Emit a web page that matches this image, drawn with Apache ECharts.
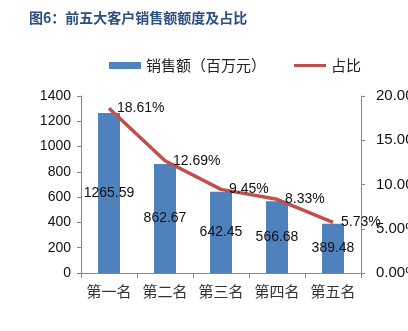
<!DOCTYPE html>
<html><head><meta charset="utf-8">
<script src="https://cdn.jsdelivr.net/npm/echarts@6/dist/echarts.min.js"></script>
<style>html,body{margin:0;padding:0;background:#fff}#c{width:408px;height:331px}</style>
</head><body><div id="c"></div>
<script>
var categories = ['第一名','第二名','第三名','第四名','第五名'];
var sales = [1265.59, 862.67, 642.45, 566.68, 389.48];
var share = [18.61, 12.69, 9.45, 8.33, 5.73];
var leftTicks = [0, 200, 400, 600, 800, 1000, 1200, 1400];
var rightTicks = [0, 5, 10, 15, 20];

var ff = 'Liberation Sans, Noto Sans CJK SC, sans-serif';
var chart = echarts.init(document.getElementById('c'));
chart.setOption({
  animation: false,
  textStyle: {fontFamily: ff},
  title: {text: '图6：前五大客户销售额额度及占比', left: 24, top: 6,
    textStyle: {fontSize: 14, fontWeight: 'bold', color: '#2C4F80', fontFamily: 'Noto Sans CJK SC'}},
  legend: {top: 53, left: 104, itemGap: 28, itemWidth: 32, itemHeight: 7, itemStyle: {borderWidth: 0},
    textStyle: {fontSize: 15, color: '#222', fontFamily: 'Noto Sans CJK SC'},
    data: [{name: '销售额（百万元）', icon: 'rect'}, {name: '占比', icon: 'path://M0,0 L10,0 L10,1 L0,1 Z'}]},
  grid: {left: 81, right: 47, top: 96, bottom: 58, containLabel: false, outerBoundsMode: 'none'},
  xAxis: {type: 'category', data: categories,
    axisLine: {lineStyle: {color: '#868686'}},
    axisTick: {show: true, length: 5, lineStyle: {color: '#868686'}},
    axisLabel: {interval: 0, fontSize: 15, color: '#333', margin: 11, fontFamily: 'Noto Sans CJK SC'}},
  yAxis: [
    {type: 'value', min: leftTicks[0], max: leftTicks[leftTicks.length-1], interval: 200,
      axisLine: {show: true, lineStyle: {color: '#868686'}},
      axisTick: {show: true, length: 4, lineStyle: {color: '#868686'}},
      splitLine: {show: false},
      axisLabel: {fontSize: 14, color: '#111', margin: 10, formatter: function(v){return String(v);}}},
    {type: 'value', min: rightTicks[0], max: rightTicks[rightTicks.length-1], interval: 5,
      axisLine: {show: true, lineStyle: {color: '#868686'}},
      axisTick: {show: true, length: 4, lineStyle: {color: '#868686'}},
      splitLine: {show: false},
      axisLabel: {fontSize: 15, color: '#111', margin: 15, formatter: function(v){return v.toFixed(2)+'%';}}}
  ],
  series: [
    {name: '销售额（百万元）', type: 'bar', data: sales, barWidth: 22, itemStyle: {color: '#4F81BD'},
      label: {show: true, position: 'inside', color: '#111', fontSize: 14, formatter: function(p){return p.value.toFixed(2);}}},
    {name: '占比', type: 'line', yAxisIndex: 1, data: share, symbol: 'circle', symbolSize: 0.1,
      lineStyle: {color: '#C0504D', width: 3.5}, itemStyle: {color: '#C0504D'},
      label: {show: true, position: 'right', distance: 8, color: '#111', fontSize: 14, formatter: function(p){return p.value.toFixed(2)+'%';}}}
  ]
});
</script></body></html>
